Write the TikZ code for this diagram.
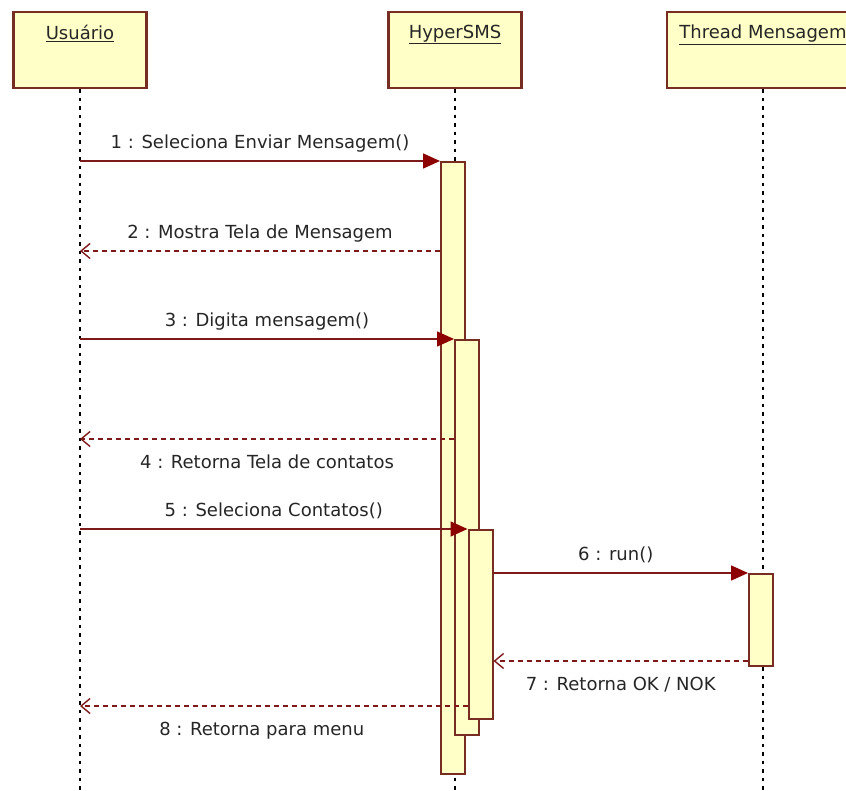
\documentclass[tikz,border=0pt]{standalone}
\usepackage{fontspec}
\setmainfont{DejaVu Sans}
\usetikzlibrary{arrows.meta,positioning}

\definecolor{umlfill}{RGB}{255,255,200}
\definecolor{umlline}{RGB}{120,45,35}
\definecolor{msgline}{RGB}{125,25,25}
\definecolor{tipred}{RGB}{140,0,0}

\tikzset{
 head/.style={draw=umlline,fill=umlfill,line width=2.2pt,minimum width=133pt,minimum height=76pt,inner sep=0pt},
 headlbl/.style={anchor=north,yshift=-14pt,inner sep=0pt,text=black!85},
 bar/.style={draw=umlline,fill=umlfill,line width=2pt,minimum width=24pt,inner sep=0pt,anchor=north},
 life/.style={black,line width=1.8pt,dash pattern=on 3.5pt off 5pt},
 call/.style={msgline,line width=1.6pt,-{Triangle[length=17pt,width=15pt,color=tipred,fill=tipred]}},
 reply/.style={msgline,line width=1.4pt,dash pattern=on 5pt off 4pt,-{Straight Barb[length=9pt,width=15pt]}},
 msglbl/.style={inner sep=2pt,text height=13.5pt,text depth=4.5pt,text=black!85}
}

\begin{document}
\begin{tikzpicture}[x=1pt,y=-1pt,font=\fontsize{18}{20}\selectfont]
\useasboundingbox (0,0) rectangle (846,791);
\clip (0,0) rectangle (846,791);
\coordinate (bottom) at (0,791);

% objects
\node[head,label={[headlbl]north:\underline{Usuário}}] (usr) at (80,50) {};
\node[head,label={[headlbl]north:\underline{HyperSMS}}] (hyp) at (455,50) {};
\node[head,minimum width=192pt,label={[headlbl]north:\underline{Thread Mensagem}}] (thr) at (763,50) {};

% lifelines
\draw[life] (usr.south) -- (usr.south |- bottom);
\draw[life] (hyp.south) -- (hyp.south |- bottom);
\draw[life] (thr.south) -- (thr.south |- bottom);

% activations
\node[bar,minimum height=612pt] (a1) at (453,161) {};
\node[bar,minimum height=395pt] (a2) at (467,339) {};
\node[bar,minimum height=189pt] (a3) at (480.5,529) {};
\node[bar,minimum height=92pt] (a4) at (761,573) {};

% messages
\coordinate (u1) at (usr.south |- a1.north);
\coordinate (u3) at (usr.south |- a2.north);
\coordinate (u5) at (usr.south |- a3.north);
\coordinate (r2) at (80,251);
\coordinate (r4) at (80,439);
\coordinate (r7) at ([yshift=6pt]a4.south west);
\coordinate (r8) at (80,706);

\draw[call] (u1) -- (a1.north west) node[msglbl,midway,above=5pt] {1 : Seleciona Enviar Mensagem()};
\draw[reply] (a1.west |- r2) -- (r2) node[msglbl,midway,above=5pt] {2 : Mostra Tela de Mensagem};
\draw[call] (u3) -- (a2.north west) node[msglbl,midway,above=5pt] {3 : Digita mensagem()};
\draw[reply] (a2.west |- r4) -- (r4) node[msglbl,midway,below=13pt] {4 : Retorna Tela de contatos};
\draw[call] (u5) -- (a3.north west) node[msglbl,midway,above=5pt] {5 : Seleciona Contatos()};
\draw[call] (a3.east |- a4.north) -- (a4.north west) node[msglbl,midway,above=5pt,xshift=-5pt] {6 : run()};
\draw[reply] (r7) -- (a3.east |- r7) node[msglbl,midway,below=13pt] {7 : Retorna OK / NOK};
\draw[reply] (a3.west |- r8) -- (r8) node[msglbl,midway,below=13pt,xshift=-12pt] {8 : Retorna para menu};
\end{tikzpicture}
\end{document}
